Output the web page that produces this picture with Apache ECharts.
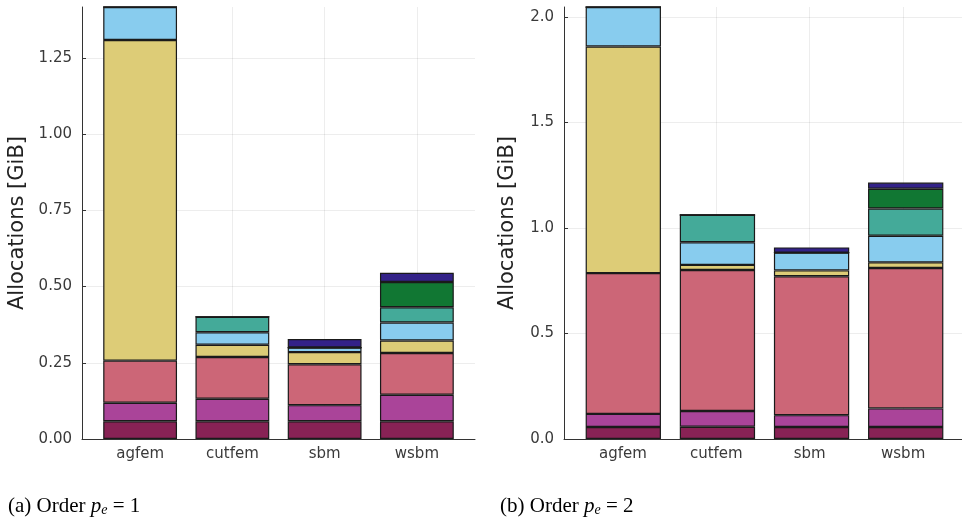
<!DOCTYPE html>
<html>
<head>
<meta charset="utf-8">
<script src="https://cdn.jsdelivr.net/npm/echarts@6/dist/echarts.min.js"></script>
<style>
  html, body { margin: 0; padding: 0; background: #ffffff; }
  #chart { width: 962px; height: 518px; }
</style>
</head>
<body>
<div id="chart"></div>
<script>
// Benchmark cases on the horizontal axis
const categories = ['agfem', 'cutfem', 'sbm', 'wsbm'];

// Stacked allocation parts in GiB, bottom to top, one value per case
const order1Part1 = [0.058, 0.058, 0.058, 0.058];
const order1Part2 = [0.061, 0.074, 0.053, 0.087];
const order1Part3 = [0.138, 0.137, 0.134, 0.137];
const order1Part4 = [1.052, 0.040, 0.040, 0.041];
const order1Part5 = [0.108, 0.041, 0.015, 0.059];
const order1Part6 = [0.000, 0.051, 0.000, 0.050];
const order1Part7 = [0.000, 0.000, 0.000, 0.083];
const order1Part8 = [0.000, 0.000, 0.028, 0.030];

const order2Part1 = [0.057, 0.058, 0.057, 0.057];
const order2Part2 = [0.062, 0.075, 0.056, 0.088];
const order2Part3 = [0.667, 0.668, 0.658, 0.665];
const order2Part4 = [1.074, 0.024, 0.028, 0.027];
const order2Part5 = [0.187, 0.107, 0.084, 0.126];
const order2Part6 = [0.000, 0.130, 0.000, 0.129];
const order2Part7 = [0.000, 0.000, 0.000, 0.094];
const order2Part8 = [0.000, 0.000, 0.025, 0.029];

// Tick values of the two vertical axes
const order1Ticks = [0, 0.25, 0.5, 0.75, 1.0, 1.25];
const order2Ticks = [0, 0.5, 1.0, 1.5, 2.0];

const partColors = ['#882255', '#AA4499', '#CC6677', '#DDCC77', '#88CCEE', '#44AA99', '#117733', '#332288'];

const order1 = [order1Part1, order1Part2, order1Part3, order1Part4, order1Part5, order1Part6, order1Part7, order1Part8];
const order2 = [order2Part1, order2Part2, order2Part3, order2Part4, order2Part5, order2Part6, order2Part7, order2Part8];

// Case i sits at x = i on the frame axis; the frame runs a little past the outer bars
const X_MIN = 0.37, X_MAX = 4.63;
const catPos = categories.map((c, i) => i + 1);

// Frame grids (axes, ticks, grid lines) for the two panels
const frames = [
  { left: 82, top: 7, width: 393, height: 432 },
  { left: 564, top: 7, width: 401, height: 432 }
];
// Bar grids: one category band per case, aligned with the frame's x = 1..4
const barGrids = frames.map(f => {
  const unit = f.width / (X_MAX - X_MIN);
  return { left: f.left + (0.5 - X_MIN) * unit, top: f.top, width: categories.length * unit, height: f.height };
});

function stackTop(parts) {
  return Math.max(...categories.map((c, i) => parts.reduce((s, p) => s + p[i], 0)));
}

const AXIS_COLOR = '#333333';
const LABEL_COLOR = '#3a3a3a';
const GRID_COLOR = 'rgba(0,0,0,0.07)';
const SANS = 'DejaVu Sans';

function frameXAxis(idx) {
  return {
    type: 'value', gridIndex: idx, min: X_MIN, max: X_MAX,
    axisLine: { show: true, onZero: false, lineStyle: { color: AXIS_COLOR, width: 1 } },
    axisTick: { show: true, inside: true, length: 4, customValues: catPos, lineStyle: { color: AXIS_COLOR } },
    axisLabel: {
      customValues: catPos, margin: 8, fontSize: 15, fontFamily: SANS, color: LABEL_COLOR,
      formatter: v => categories[Math.round(v) - 1]
    },
    splitLine: { show: true, lineStyle: { color: GRID_COLOR, width: 1 } }
  };
}

function frameYAxis(idx, ticks, top, digits, gap) {
  return {
    type: 'value', gridIndex: idx, min: 0, max: top,
    name: 'Allocations [GiB]', nameLocation: 'middle', nameGap: gap,
    nameTextStyle: { fontSize: 21, fontFamily: SANS, color: '#222222' },
    axisLine: { show: true, onZero: false, lineStyle: { color: AXIS_COLOR, width: 1 } },
    axisTick: { show: true, inside: true, length: 4, customValues: ticks, lineStyle: { color: AXIS_COLOR } },
    axisLabel: {
      customValues: ticks, margin: 10, fontSize: 15, fontFamily: SANS, color: LABEL_COLOR,
      formatter: v => v.toFixed(digits)
    },
    splitLine: { show: true, lineStyle: { color: GRID_COLOR, width: 1 } }
  };
}

function barXAxis(idx) {
  return { type: 'category', gridIndex: idx, data: categories, show: false };
}

function barYAxis(idx, top) {
  return { type: 'value', gridIndex: idx, min: 0, max: top, show: false };
}

function seriesFor(panel, parts) {
  const axisIdx = panel + 2;
  return parts.map((vals, k) => ({
    type: 'bar', name: 'part ' + (k + 1),
    xAxisIndex: axisIdx, yAxisIndex: axisIdx, stack: 'order' + (panel + 1),
    barWidth: '80%',
    data: vals,
    itemStyle: { color: partColors[k], borderColor: '#1a1a1a', borderWidth: 1.2 },
    silent: true
  }));
}

const captionRich = {
  it: { fontFamily: 'Liberation Serif', fontStyle: 'italic', fontSize: 21, color: '#000' },
  sub: { fontFamily: 'Liberation Serif', fontStyle: 'italic', fontSize: 14, color: '#000', padding: [8, 0, 0, 0] }
};

function caption(label, order, left) {
  return {
    text: label + ' Order {it|p}{sub|e} = ' + order,
    left: left, top: 490,
    textStyle: { fontFamily: 'Liberation Serif', fontSize: 21, fontWeight: 'normal', color: '#000', rich: captionRich }
  };
}

const top1 = stackTop(order1);
const top2 = stackTop(order2);

const chart = echarts.init(document.getElementById('chart'), null, { renderer: 'canvas' });
chart.setOption({
  animation: false,
  backgroundColor: '#ffffff',
  title: [caption('(a)', 1, 3), caption('(b)', 2, 495)],
  grid: frames.concat(barGrids),
  xAxis: [frameXAxis(0), frameXAxis(1), barXAxis(2), barXAxis(3)],
  yAxis: [
    frameYAxis(0, order1Ticks, top1, 2, 54),
    frameYAxis(1, order2Ticks, top2, 1, 46)
  ].concat([barYAxis(2, top1), barYAxis(3, top2)]),
  series: seriesFor(0, order1).concat(seriesFor(1, order2))
});
</script>
</body>
</html>
